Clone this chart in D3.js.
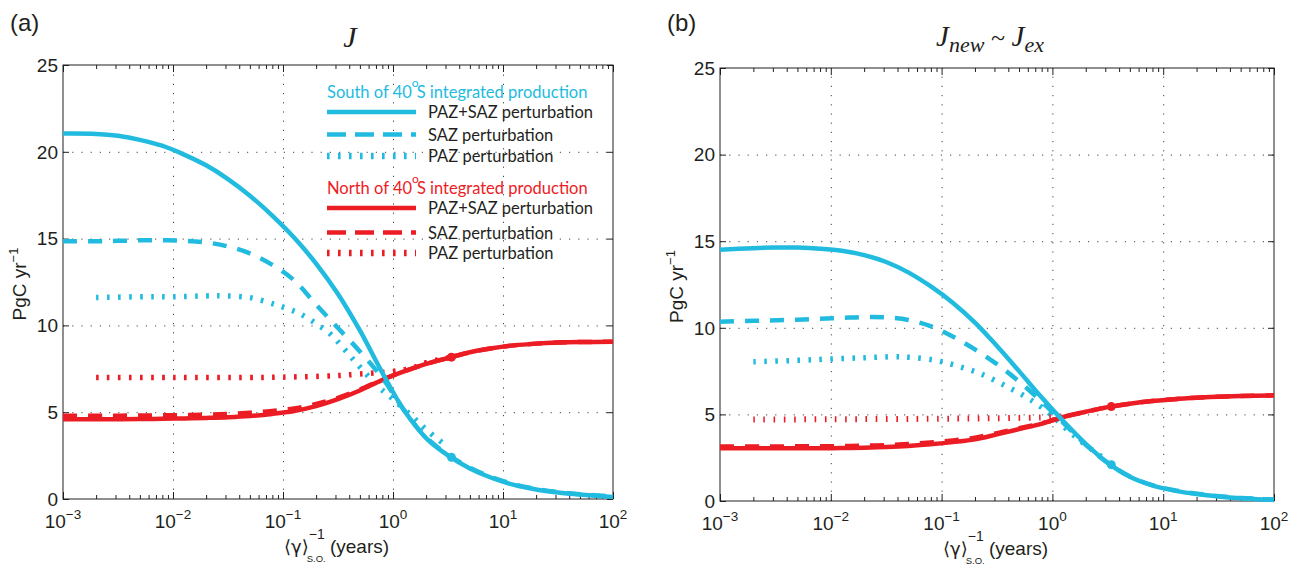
<!DOCTYPE html>
<html>
<head>
<meta charset="utf-8">
<script src="https://cdn.jsdelivr.net/npm/d3@7"></script>
<style>
  body { margin: 0; background: #fff; }
  svg text { font-family: "Liberation Sans", Arial, sans-serif; fill: #231f20; }
  .legend text { font-family: Lato, "Open Sans", sans-serif; }
</style>
</head>
<body>
<svg id="chart" width="1295" height="566"></svg>
<script>
// axis ticks
const xTicks = [1e-3, 1e-2, 1e-1, 1, 10, 100];
const xTickExp = ["\u22123", "\u22122", "\u22121", "0", "1", "2"];
const yTicks = [0, 5, 10, 15, 20, 25];

// sample points along <gamma>^-1 (years), shared by the full-range curves
const xGrid = [0.001, 0.002, 0.00316, 0.005, 0.00794, 0.0126, 0.02, 0.0316, 0.05, 0.0794, 0.126, 0.2, 0.316, 0.5, 0.794, 1.26, 2, 3.16, 5, 7.94, 12.6, 20, 31.6, 50, 100];

// panel (a): J
const aSouthAll = [21.05, 21.03, 20.92, 20.69, 20.35, 19.84, 19.22, 18.43, 17.47, 16.34, 15.06, 13.56, 11.81, 9.71, 7.31, 5.11, 3.51, 2.51, 1.76, 1.21, 0.81, 0.55, 0.38, 0.26, 0.12];
const aSouthSAZ = [14.85, 14.85, 14.87, 14.9, 14.9, 14.88, 14.78, 14.55, 14.15, 13.5, 12.6, 11.2, 9.85, 8.5, 7.0, 5.12, 3.55, 2.55, 1.8, 1.25, 0.85, 0.58, 0.4, 0.28, 0.14];
const aNorthAll = [4.6, 4.6, 4.6, 4.61, 4.62, 4.64, 4.67, 4.71, 4.78, 4.9, 5.07, 5.35, 5.75, 6.25, 6.85, 7.35, 7.78, 8.12, 8.45, 8.68, 8.85, 8.95, 9.01, 9.04, 9.06];
const aNorthSAZ = [4.8, 4.8, 4.8, 4.81, 4.82, 4.83, 4.86, 4.9, 4.97, 5.07, 5.22, 5.47, 5.83, 6.3, 6.87, 7.35, 7.78, 8.12, 8.45, 8.68, 8.85, 8.95, 9.01, 9.04, 9.06];
const aSouthPazX = [0.002, 0.005, 0.01, 0.02, 0.03, 0.05, 0.076, 0.1, 0.14, 0.2, 0.27, 0.44, 0.7, 1, 1.5, 2, 3];
const aSouthPAZ = [11.6, 11.65, 11.65, 11.7, 11.7, 11.6, 11.3, 11.05, 10.7, 10.1, 9.5, 8.0, 6.6, 5.75, 4.75, 4.0, 3.1];
const aNorthPazX = [0.002, 0.01, 0.05, 0.1, 0.3, 0.5, 1, 1.5, 2, 3.4];
const aNorthPAZ = [7.0, 7.0, 7.0, 7.02, 7.1, 7.2, 7.35, 7.55, 7.85, 8.17];

// panel (b): Jnew ~ Jex
const bSouthAll = [14.5, 14.6, 14.64, 14.63, 14.57, 14.45, 14.2, 13.8, 13.2, 12.4, 11.45, 10.3, 8.95, 7.5, 6.0, 4.6, 3.3, 2.2, 1.4, 0.9, 0.6, 0.4, 0.26, 0.16, 0.06];
const bSouthSAZ = [10.35, 10.4, 10.43, 10.47, 10.52, 10.57, 10.62, 10.6, 10.45, 10.1, 9.5, 8.75, 7.9, 6.9, 5.75, 4.5, 3.25, 2.2, 1.42, 0.92, 0.62, 0.42, 0.28, 0.18, 0.08];
const bNorthAll = [3.04, 3.04, 3.04, 3.04, 3.04, 3.06, 3.08, 3.12, 3.18, 3.27, 3.4, 3.56, 3.85, 4.15, 4.45, 4.85, 5.15, 5.42, 5.62, 5.77, 5.88, 5.96, 6.02, 6.06, 6.1];
const bNorthSAZ = [3.15, 3.15, 3.15, 3.16, 3.16, 3.17, 3.19, 3.23, 3.29, 3.38, 3.5, 3.66, 3.92, 4.2, 4.48, 4.85, 5.15, 5.42, 5.62, 5.77, 5.88, 5.96, 6.02, 6.06, 6.1];
const bSouthPazX = [0.002, 0.005, 0.01, 0.02, 0.037, 0.05, 0.085, 0.13, 0.22, 0.39, 0.64, 1.02, 1.19, 1.55, 2.34, 3.2];
const bSouthPAZ = [8.04, 8.12, 8.2, 8.27, 8.33, 8.3, 8.14, 7.85, 7.37, 6.6, 5.83, 4.87, 4.45, 3.8, 2.9, 2.3];
const bNorthPazX = [0.002, 0.01, 0.1, 0.3, 1, 1.3];
const bNorthPAZ = [4.7, 4.72, 4.75, 4.78, 4.85, 4.92];

const markerX = 3.4;

const legendGroups = ["South of 40", "North of 40"];
const legendRows = ["PAZ+SAZ perturbation", "SAZ perturbation", "PAZ perturbation"];

const CYAN = "#22bbe0";
const RED = "#ec1c24";

const svg = d3.select("#chart");
const zip = (xs, ys) => xs.map((v, i) => [v, ys[i]]);

const styles = {
    solid: {w: 4.5, dash: null},
    dashed: {w: 4.5, dash: "14,11"},
    dotted: {w: 5.5, dash: "2.6,8.4"},
    dottedThin: {w: 6, dash: "1.6,8.6"}
};

function drawPanel(p) {
    const x = d3.scaleLog().domain([1e-3, 100]).range([p.left, p.right]);
    const y = d3.scaleLinear().domain([0, 25]).range([p.bottom, p.top]);
    const g = svg.append("g");
    const h = p.bottom - p.top, w = p.right - p.left;

    let minors = [];
    for (let e = -3; e < 2; e++) for (let k = 2; k < 10; k++) minors.push(k * Math.pow(10, e));

    // grid
    g.append("g").attr("transform", `translate(0,${p.bottom})`)
        .call(d3.axisBottom(x).tickValues(xTicks.slice(1, -1)).tickSize(-h).tickFormat(""))
        .call(s => s.select(".domain").remove())
        .selectAll("line").attr("stroke", "#444").attr("stroke-dasharray", "1.2,8");
    g.append("g").attr("transform", `translate(${p.left},0)`)
        .call(d3.axisLeft(y).tickValues(yTicks.slice(1, -1)).tickSize(-w).tickFormat(""))
        .call(s => s.select(".domain").remove())
        .selectAll("line").attr("stroke", "#444").attr("stroke-dasharray", "1.2,8");

    // ticks, inside
    const tickAxes = [
        [d3.axisBottom(x).tickValues(xTicks).tickSize(-7), `translate(0,${p.bottom})`],
        [d3.axisBottom(x).tickValues(minors).tickSize(-4), `translate(0,${p.bottom})`],
        [d3.axisTop(x).tickValues(xTicks).tickSize(-7), `translate(0,${p.top})`],
        [d3.axisTop(x).tickValues(minors).tickSize(-4), `translate(0,${p.top})`],
        [d3.axisLeft(y).tickValues(yTicks).tickSize(-6), `translate(${p.left},0)`],
        [d3.axisRight(y).tickValues(yTicks).tickSize(-6), `translate(${p.right},0)`]
    ];
    tickAxes.forEach(([ax, tr]) => {
        g.append("g").attr("transform", tr)
            .call(ax.tickFormat("").tickSizeOuter(0))
            .call(s => s.select(".domain").remove())
            .selectAll("line").attr("stroke", "#231f20");
    });

    g.append("rect").attr("x", p.left).attr("y", p.top).attr("width", w).attr("height", h)
        .attr("fill", "none").attr("stroke", "#231f20").attr("stroke-width", 1);

    // tick labels
    xTicks.forEach((v, i) => {
        const t = g.append("text").attr("x", x(v)).attr("y", p.bottom + 29)
            .attr("text-anchor", "middle").style("font-size", "19px");
        t.append("tspan").text("10");
        t.append("tspan").attr("dy", -9).style("font-size", "13.5px").text(xTickExp[i]);
    });
    yTicks.forEach(v => {
        g.append("text").attr("x", p.left - 5).attr("y", y(v)).attr("dy", "0.36em")
            .attr("text-anchor", "end").style("font-size", "19px").text(v);
    });

    // axis labels
    const yl = g.append("text")
        .attr("transform", `translate(${p.left - 37},${(p.top + p.bottom) / 2 + 2}) rotate(-90)`)
        .attr("text-anchor", "middle").style("font-size", "19px");
    yl.append("tspan").text("PgC yr");
    yl.append("tspan").attr("dy", -8).style("font-size", "13px").text("\u22121");

    const xl = g.append("text").attr("x", p.xLabelX).attr("y", p.bottom + 54).style("font-size", "19px");
    xl.append("tspan").style("font-family", "DejaVu Sans").style("font-size", "18px").text("\u27E8\u03B3\u27E9");
    xl.append("tspan").attr("dy", 9).attr("dx", -2).style("font-size", "9.5px").text("S.O.");
    xl.append("tspan").attr("dy", -23).attr("dx", -17).style("font-size", "14px").text("\u22121");
    xl.append("tspan").attr("dy", 14).text(" (years)");

    // panel letter and title
    g.append("text").attr("x", p.left - 53).attr("y", 31).style("font-size", "24px").text(p.letter);
    p.title(g, x, y);

    // series
    const line = d3.line().x(d => x(d[0])).y(d => y(d[1])).curve(d3.curveCatmullRom.alpha(0.5));
    p.series.forEach(s => {
        const st = styles[s.style];
        g.append("path").datum(s.data).attr("d", line)
            .attr("fill", "none").attr("stroke", s.color).attr("stroke-width", st.w)
            .attr("stroke-dasharray", st.dash);
    });
    p.markers.forEach(m => {
        g.append("circle").attr("cx", x(markerX)).attr("cy", y(m.v)).attr("r", 4.5).attr("fill", m.color);
    });
    return {x, y};
}

drawPanel({
    left: 63, right: 613, top: 65, bottom: 499, letter: "(a)", xLabelX: 284,
    title: (g) => {
        g.append("text").attr("x", 350).attr("y", 47).attr("text-anchor", "middle")
            .style("font-family", "Liberation Serif").style("font-style", "italic").style("font-size", "30px").text("J");
    },
    series: [
        {data: zip(aSouthPazX, aSouthPAZ), color: CYAN, style: "dotted"},
        {data: zip(aNorthPazX, aNorthPAZ), color: RED, style: "dotted"},
        {data: zip(xGrid, aNorthSAZ), color: RED, style: "dashed"},
        {data: zip(xGrid, aNorthAll), color: RED, style: "solid"},
        {data: zip(xGrid, aSouthSAZ), color: CYAN, style: "dashed"},
        {data: zip(xGrid, aSouthAll), color: CYAN, style: "solid"}
    ],
    markers: [{v: 2.4, color: CYAN}, {v: 8.17, color: RED}]
});

drawPanel({
    left: 720, right: 1274, top: 68, bottom: 501, letter: "(b)", xLabelX: 943,
    title: (g) => {
        const t = g.append("text").attr("x", 990).attr("y", 46).attr("text-anchor", "middle")
            .style("font-family", "Liberation Serif").style("font-style", "italic").style("font-size", "29px");
        t.append("tspan").text("J");
        t.append("tspan").attr("dy", 6).style("font-size", "22px").text("new");
        t.append("tspan").attr("dy", -6).style("font-style", "normal").style("font-size", "26px").text(" ~ ");
        t.append("tspan").text("J");
        t.append("tspan").attr("dy", 6).style("font-size", "22px").text("ex");
    },
    series: [
        {data: zip(bSouthPazX, bSouthPAZ), color: CYAN, style: "dotted"},
        {data: zip(bNorthPazX, bNorthPAZ), color: RED, style: "dottedThin"},
        {data: zip(xGrid, bNorthSAZ), color: RED, style: "dashed"},
        {data: zip(xGrid, bNorthAll), color: RED, style: "solid"},
        {data: zip(xGrid, bSouthSAZ), color: CYAN, style: "dashed"},
        {data: zip(xGrid, bSouthAll), color: CYAN, style: "solid"}
    ],
    markers: [{v: 2.1, color: CYAN}, {v: 5.45, color: RED}]
});

// legend in panel (a)
const leg = svg.append("g").attr("class", "legend");
const legStyles = ["solid", "dashed", "dotted"];
const groupTop = [98, 194];
const rowLineY = [[112, 134.5, 156], [208, 232.5, 253]];
[CYAN, RED].forEach((col, gi) => {
    const tt = leg.append("text").attr("x", 327).attr("y", groupTop[gi])
        .style("font-size", "16.5px").style("fill", col);
    tt.append("tspan").text(legendGroups[gi]);
    tt.append("tspan").attr("dy", -11).style("font-size", "12px").text("o");
    tt.append("tspan").attr("dy", 11).attr("dx", -2).text("S integrated production");
    legendRows.forEach((r, ri) => {
        const ly = rowLineY[gi][ri];
        const st = styles[legStyles[ri]];
        leg.append("line").attr("x1", 327).attr("x2", 416).attr("y1", ly).attr("y2", ly)
            .attr("stroke", col).attr("stroke-width", st.w + (ri === 2 ? 1 : 0))
            .attr("stroke-dasharray", ri === 1 ? "19,9" : st.dash);
        leg.append("text").attr("x", 428).attr("y", ly + 6).style("font-size", "16.5px").text(r);
    });
});
</script>
</body>
</html>
